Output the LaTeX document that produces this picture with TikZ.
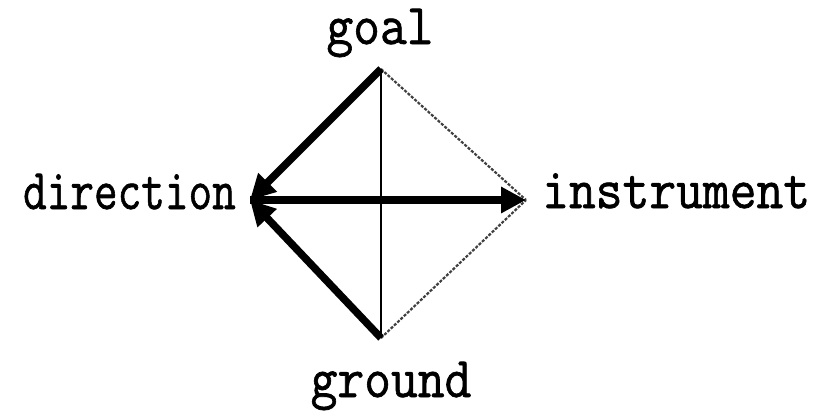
\documentclass[tikz,border=0pt]{standalone}
\usepackage{fontspec}
\newfontfamily\lblfont[FakeBold=1.2]{Latin Modern Mono}
\usetikzlibrary{arrows.meta}
\newcommand{\lbltext}[2][1.02]{\scalebox{#1}[1.13]{#2}}
\begin{document}
\begin{tikzpicture}[x=1pt,y=-1pt,
  lbl/.style={inner sep=0pt,font=\fontsize{51}{51}\lblfont},
  thickarrow/.style={line width=7.5pt,-{Triangle[length=25pt,width=25pt]}},
  thinline/.style={line width=2pt,black},
  faintline/.style={line width=2.2pt,black!75,dash pattern=on 3pt off 1.5pt}]
\useasboundingbox (0,0) rectangle (816,415);
\coordinate (G) at (381,69);
\coordinate (D) at (250,200);
\coordinate (I) at (526,200);
\coordinate (B) at (381,338);
\node[lbl,anchor=base] (goal) at (380,44) {\lbltext{goal}};
\node[lbl,anchor=base east] (direction) at (236,209) {\lbltext[0.9]{direction}};
\node[lbl,anchor=base west] (instrument) at (542,208) {\lbltext{instrument}};
\node[lbl,anchor=base] (ground) at (391,397) {\lbltext{ground}};
\draw[faintline] (G) -- (I);
\draw[faintline] (B) -- (I);
\draw[thinline] (G) -- (B);
\draw[thickarrow] (D) -- (I);
\draw[thickarrow] (G) -- (D);
\draw[thickarrow] (B) -- (D);
\end{tikzpicture}
\end{document}
